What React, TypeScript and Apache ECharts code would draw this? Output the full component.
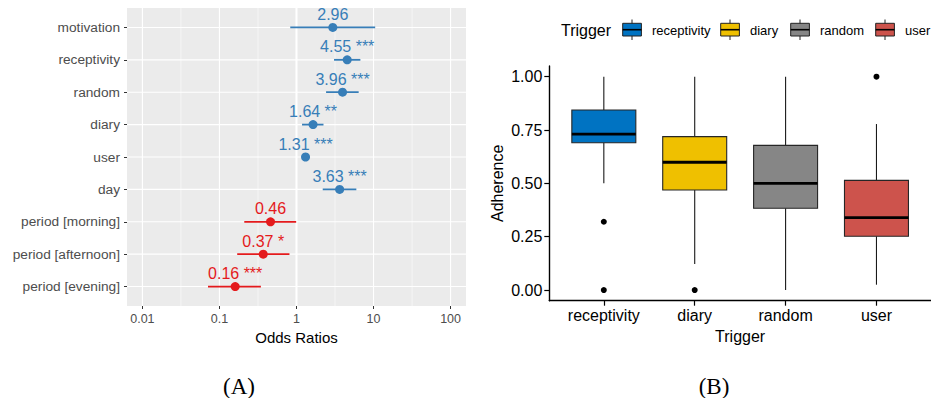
import React, { useEffect, useRef } from "react";
import * as echarts from "echarts";

// ---------- Panel A: odds ratios ----------
const predictors = [
  "motivation",
  "receptivity",
  "random",
  "diary",
  "user",
  "day",
  "period [morning]",
  "period [afternoon]",
  "period [evening]",
];
const oddsRatios = [2.96, 4.55, 3.96, 1.64, 1.31, 3.63, 0.46, 0.37, 0.16];
const ciLow = [0.83, 3.07, 2.42, 1.18, 1.22, 2.19, 0.21, 0.17, 0.071];
const ciHigh = [10.5, 6.75, 6.41, 2.24, 1.41, 5.98, 0.99, 0.81, 0.345];
const significance = ["", "***", "***", "**", "***", "***", "", "*", "***"];
const oddsTicks = [0.01, 0.1, 1, 10, 100];
const oddsTickLabels = ["0.01", "0.1", "1", "10", "100"];

// ---------- Panel B: adherence boxplots ----------
const triggers = ["receptivity", "diary", "random", "user"];
const whiskerLow = [0.5, 0.122, 0.0, 0.025];
const q1 = [0.69, 0.469, 0.383, 0.252];
const median = [0.731, 0.599, 0.5, 0.339];
const q3 = [0.844, 0.719, 0.678, 0.514];
const whiskerHigh = [1.0, 1.0, 1.0, 0.778];
const outlierTrigger = ["receptivity", "receptivity", "diary", "user"];
const outlierValue = [0.32, 0.0, 0.0, 1.0];
const adherenceTicks = [0, 0.25, 0.5, 0.75, 1];
const adherenceTickLabels = ["0.00", "0.25", "0.50", "0.75", "1.00"];

const triggerColors = ["#0073C2", "#EFC000", "#868686", "#CD534C"];
const positiveColor = "#377EB8";
const negativeColor = "#E41A1C";

const SANS = "'Liberation Sans', Arial, Helvetica, sans-serif";
const SERIF = "'Liberation Serif', 'Times New Roman', serif";

export default function App() {
  const ref = useRef<HTMLDivElement>(null);

  useEffect(() => {
    if (!ref.current) return;
    const chart = echarts.init(ref.current, undefined, { renderer: "svg" });

    const logTicks = oddsTicks.map((t) => Math.log10(t));
    const minorTicks = logTicks.slice(0, -1).map((t, i) => (t + logTicks[i + 1]) / 2);
    const catPositions = predictors.map((_, i) => i + 1);

    const gridData: number[][] = [];
    minorTicks.forEach((v) => gridData.push([v, 5, 1]));
    logTicks.forEach((v) => gridData.push([v, 5, 0]));
    catPositions.forEach((v) => gridData.push([0, v, 2]));
    gridData.push([Math.log10(1), 5, 3]);

    const triggerPositions = triggers.map((_, i) => i + 1);

    const legendKeyX = [622.7, 720.7, 790.7, 875.7];
    const legendGraphics: any[] = [
      {
        type: "text",
        x: 561,
        y: 30,
        style: { text: "Trigger", font: `16px ${SANS}`, fill: "#000", verticalAlign: "middle", align: "left" },
      },
    ];
    triggers.forEach((t, i) => {
      const kx = legendKeyX[i];
      legendGraphics.push({
        type: "group",
        children: [
          { type: "line", shape: { x1: kx + 9.3, y1: 19.5, x2: kx + 9.3, y2: 40 }, style: { stroke: "#222", lineWidth: 1 } },
          { type: "rect", shape: { x: kx, y: 23.3, width: 18.7, height: 12.7 }, style: { fill: triggerColors[i], stroke: "#222", lineWidth: 1 } },
          { type: "line", shape: { x1: kx, y1: 29.7, x2: kx + 18.7, y2: 29.7 }, style: { stroke: "#000", lineWidth: 1.6 } },
          {
            type: "text",
            x: kx + 29.3,
            y: 30,
            style: { text: t, font: `13px ${SANS}`, fill: "#000", verticalAlign: "middle", align: "left" },
          },
        ],
      });
    });

    const option: any = {
      animation: false,
      textStyle: { fontFamily: SANS },
      grid: [
        { left: 127, top: 8, width: 339, height: 298, show: true, backgroundColor: "#EBEBEB", borderWidth: 0 },
        { left: 549.3, top: 66, width: 392.4, height: 234.7, show: false },
      ],
      xAxis: [
        {
          type: "value",
          gridIndex: 0,
          min: -2.2,
          max: 2.2,
          axisLine: { show: false, onZero: false },
          splitLine: { show: false },
          axisTick: { show: true, customValues: logTicks, length: 3, lineStyle: { color: "#333", width: 1 } },
          axisLabel: {
            customValues: logTicks,
            formatter: (v: number) => {
              const idx = logTicks.findIndex((t) => Math.abs(t - v) < 1e-6);
              return idx >= 0 ? oddsTickLabels[idx] : "";
            },
            color: "#4D4D4D",
            fontSize: 12.5,
            margin: 6,
            fontFamily: SANS,
          },
          name: "Odds Ratios",
          nameLocation: "middle",
          nameGap: 22,
          nameTextStyle: { color: "#000", fontSize: 15, fontFamily: SANS },
        },
        {
          type: "value",
          gridIndex: 1,
          min: 0.4,
          max: 4.6,
          axisLine: { show: true, onZero: false, lineStyle: { color: "#000", width: 1.4 } },
          splitLine: { show: false },
          axisTick: { show: true, customValues: triggerPositions, length: 5, lineStyle: { color: "#000", width: 1.2 } },
          axisLabel: {
            customValues: triggerPositions,
            formatter: (v: number) => triggers[Math.round(v) - 1] ?? "",
            color: "#000",
            fontSize: 16,
            margin: 7,
            fontFamily: SANS,
          },
          name: "Trigger",
          nameLocation: "middle",
          nameGap: 26,
          nameTextStyle: { color: "#000", fontSize: 16, fontFamily: SANS },
        },
      ],
      yAxis: [
        {
          type: "value",
          gridIndex: 0,
          min: 0.4,
          max: 9.6,
          inverse: true,
          axisLine: { show: false, onZero: false },
          splitLine: { show: false },
          axisTick: { show: true, customValues: catPositions, length: 3, lineStyle: { color: "#333", width: 1 } },
          axisLabel: {
            customValues: catPositions,
            formatter: (v: number) => predictors[Math.round(v) - 1] ?? "",
            color: "#4D4D4D",
            fontSize: 13.7,
            margin: 7,
            fontFamily: SANS,
          },
        },
        {
          type: "value",
          gridIndex: 1,
          min: -0.05,
          max: 1.05,
          axisLine: { show: true, onZero: false, lineStyle: { color: "#000", width: 1.4 } },
          splitLine: { show: false },
          axisTick: { show: true, customValues: adherenceTicks, length: 5, lineStyle: { color: "#000", width: 1.2 } },
          axisLabel: {
            customValues: adherenceTicks,
            formatter: (v: number) => {
              const idx = adherenceTicks.findIndex((t) => Math.abs(t - v) < 1e-6);
              return idx >= 0 ? adherenceTickLabels[idx] : "";
            },
            color: "#000",
            fontSize: 16,
            margin: 7,
            fontFamily: SANS,
          },
          name: "Adherence",
          nameLocation: "middle",
          nameGap: 44,
          nameTextStyle: { color: "#000", fontSize: 16, fontFamily: SANS },
        },
      ],
      series: [
        {
          type: "custom",
          name: "gridlines",
          xAxisIndex: 0,
          yAxisIndex: 0,
          silent: true,
          z: 1,
          clip: false,
          encode: { x: 0, y: 1 },
          data: gridData,
          renderItem: (params: any, api: any) => {
            const kind = api.value(2);
            const cs = params.coordSys;
            if (kind === 2) {
              const y = api.coord([0, api.value(1)])[1];
              return {
                type: "line",
                shape: { x1: cs.x, y1: y, x2: cs.x + cs.width, y2: y },
                style: { stroke: "#FFFFFF", lineWidth: 1.1 },
              };
            }
            const x = api.coord([api.value(0), 5])[0];
            return {
              type: "line",
              shape: { x1: x, y1: cs.y, x2: x, y2: cs.y + cs.height },
              style: { stroke: "#FFFFFF", lineWidth: kind === 0 ? 1.1 : kind === 1 ? 0.55 : 2 },
            };
          },
        },
        {
          type: "custom",
          name: "ci",
          xAxisIndex: 0,
          yAxisIndex: 0,
          silent: true,
          z: 2,
          encode: { x: [0, 1], y: 2 },
          data: predictors.map((_, i) => [Math.log10(ciLow[i]), Math.log10(ciHigh[i]), i + 1, i]),
          renderItem: (_params: any, api: any) => {
            const i = api.value(3);
            const p1 = api.coord([api.value(0), api.value(2)]);
            const p2 = api.coord([api.value(1), api.value(2)]);
            return {
              type: "line",
              shape: { x1: p1[0], y1: p1[1], x2: p2[0], y2: p2[1] },
              style: { stroke: oddsRatios[i] >= 1 ? positiveColor : negativeColor, lineWidth: 1.8 },
            };
          },
        },
        {
          type: "scatter",
          name: "estimates",
          xAxisIndex: 0,
          yAxisIndex: 0,
          z: 3,
          symbolSize: 9,
          data: predictors.map((_, i) => {
            const c = oddsRatios[i] >= 1 ? positiveColor : negativeColor;
            return {
              value: [Math.log10(oddsRatios[i]), i + 1],
              itemStyle: { color: c, opacity: 1 },
              label: { color: c },
            };
          }),
          label: {
            show: true,
            position: "top",
            distance: 0.5,
            fontSize: 16,
            fontFamily: SANS,
            formatter: (p: any) => {
              const i = p.dataIndex;
              return significance[i] ? `${oddsRatios[i].toFixed(2)} ${significance[i]}` : oddsRatios[i].toFixed(2);
            },
          },
        },
        {
          type: "custom",
          name: "boxes",
          xAxisIndex: 1,
          yAxisIndex: 1,
          z: 2,
          encode: { x: 0, y: [1, 2, 3, 4, 5] },
          data: triggers.map((_, i) => [i + 1, whiskerLow[i], q1[i], median[i], q3[i], whiskerHigh[i], i]),
          renderItem: (_params: any, api: any) => {
            const x = api.value(0);
            const i = api.value(6);
            const hw = 0.352;
            const pLo = api.coord([x, api.value(1)]);
            const pQ1 = api.coord([x, api.value(2)]);
            const pMed = api.coord([x, api.value(3)]);
            const pQ3 = api.coord([x, api.value(4)]);
            const pHi = api.coord([x, api.value(5)]);
            const left = api.coord([x - hw, 0])[0];
            const right = api.coord([x + hw, 0])[0];
            return {
              type: "group",
              children: [
                { type: "line", shape: { x1: pQ3[0], y1: pQ3[1], x2: pHi[0], y2: pHi[1] }, style: { stroke: "#1a1a1a", lineWidth: 1.1 } },
                { type: "line", shape: { x1: pLo[0], y1: pLo[1], x2: pQ1[0], y2: pQ1[1] }, style: { stroke: "#1a1a1a", lineWidth: 1.1 } },
                {
                  type: "rect",
                  shape: { x: left, y: pQ3[1], width: right - left, height: pQ1[1] - pQ3[1] },
                  style: { fill: triggerColors[i], stroke: "#262626", lineWidth: 1.1 },
                },
                { type: "line", shape: { x1: left, y1: pMed[1], x2: right, y2: pMed[1] }, style: { stroke: "#000", lineWidth: 2.8 } },
              ],
            };
          },
        },
        {
          type: "scatter",
          name: "outliers",
          xAxisIndex: 1,
          yAxisIndex: 1,
          z: 3,
          symbolSize: 6,
          itemStyle: { color: "#000", opacity: 1 },
          data: outlierTrigger.map((t, k) => [triggers.indexOf(t) + 1, outlierValue[k]]),
        },
      ],
      graphic: [
        ...legendGraphics,
        {
          type: "text",
          x: 239,
          y: 386,
          style: { text: "(A)", font: `23px ${SERIF}`, fill: "#000", align: "center", verticalAlign: "middle" },
        },
        {
          type: "text",
          x: 714,
          y: 386,
          style: { text: "(B)", font: `23px ${SERIF}`, fill: "#000", align: "center", verticalAlign: "middle" },
        },
      ],
    };

    chart.setOption(option);
    return () => chart.dispose();
  }, []);

  return (
    <div
      ref={ref}
      style={{ position: "absolute", left: 0, top: 0, width: 931, height: 398, background: "#fff" }}
    />
  );
}
